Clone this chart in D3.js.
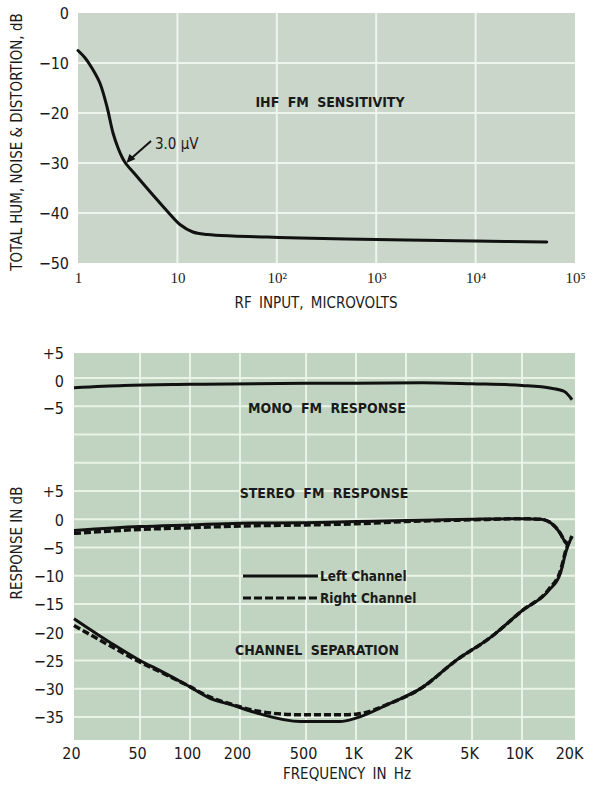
<!DOCTYPE html>
<html>
<head>
<meta charset="utf-8">
<script src="https://cdn.jsdelivr.net/npm/d3@7"></script>
<style>
  body { margin: 0; background: #fff; }
  svg text { font-family: "Liberation Sans Narrow", "DejaVu Sans Condensed", "Roboto Condensed", sans-serif; font-stretch: condensed; fill: #1a1a1a; }
  .num { font-size: 16px; }
  .serif { font-family: "Liberation Serif", "DejaVu Serif", serif; font-stretch: condensed; font-size: 15px; }
  .title { font-size: 15px; }
  .label { font-size: 14px; font-weight: bold; word-spacing: 4px; }
  .note { font-size: 13.5px; font-weight: bold; }
</style>
</head>
<body>
<svg class="chart"></svg>
<script>
// top chart: IHF FM sensitivity
var rfInput = [1, 1.18, 1.38, 1.66, 1.96, 2.25, 2.53, 2.77, 3, 3.66, 4.2, 5.67, 8.2, 10.6, 14.3, 20, 36, 80, 170, 500, 2000, 10000, 52000];
var thdNoise = [-7.5, -9, -11, -14, -18.8, -24, -27, -28.8, -30, -32, -33.4, -36.4, -40, -42.3, -43.8, -44.3, -44.6, -44.8, -45, -45.2, -45.4, -45.6, -45.8];
var rfTicks = [1, 10, 100, 1000, 10000, 100000];
var rfTickLabels = ["1", "10", "10\u00b2", "10\u00b3", "10\u2074", "10\u2075"];
var thdTicks = [0, -10, -20, -30, -40, -50];

// bottom chart: frequency response and separation
var monoFreq = [20, 40, 100, 500, 1000, 2500, 5000, 10000, 15000, 18000, 20000];
var monoResp = [-1.3, -0.9, -0.7, -0.5, -0.5, -0.4, -0.6, -0.9, -1.4, -2, -3.5];
var stereoFreq = [20, 50, 100, 200, 500, 1000, 2000, 5000, 10000, 13000, 15000, 17000, 18000, 19000];
var stereoLeft = [-2.0, -1.3, -1.0, -0.7, -0.6, -0.4, -0.2, 0, 0.1, 0, -0.7, -2.5, -3.8, -4.6];
var stereoRight = [-2.5, -1.8, -1.5, -1.2, -1.0, -0.8, -0.4, -0.1, 0.1, 0, -0.7, -2.5, -3.8, -4.6];
var sepFreq = [20, 33, 50, 66, 95, 130, 180, 260, 460, 800, 1000, 1600, 2500, 4000, 6400, 10000, 14500, 17000, 18500, 20000];
var sepLeft = [-17.6, -21.8, -25, -26.8, -29.3, -31.6, -32.9, -34.4, -35.8, -35.8, -35.2, -32.6, -29.8, -25, -21, -16.2, -12.6, -9.6, -5.5, -3];
var sepRight = [-18.8, -22.4, -25.3, -27, -29.3, -31.4, -32.8, -34, -34.6, -34.6, -34.5, -32.6, -29.8, -25, -21, -16.2, -12.4, -9.2, -5.2, -3];
var freqTicks = [20, 50, 100, 200, 500, 1000, 2000, 5000, 10000, 20000];
var freqTickLabels = ["20", "50", "100", "200", "500", "1K", "2K", "5K", "10K", "20K"];
var stereoTicks = [5, 0, -5, -10, -15, -20, -25, -30, -35];
var monoTicks = [5, 0, -5];
var gridLevels = [25, 20, 15, 10, 5, 0, -5, -10, -15, -20, -25, -30, -35];

var width = 595, height = 788;
var svg = d3.select(".chart").attr("width", width).attr("height", height);

function fmt(d) {
    if (d > 0) return "+" + d;
    if (d < 0) return "\u2212" + Math.abs(d);
    return "0";
}

// ---------- top chart ----------
var xTop = d3.scaleLog().domain([1, 1e5]).range([78, 575]);
var yTop = d3.scaleLinear().domain([0, -50]).range([13, 263]);

var topChart = svg.append("g");
topChart.append("rect")
    .attr("x", 78).attr("y", 13)
    .attr("width", 497).attr("height", 250)
    .attr("fill", "#cad6ca");

topChart.selectAll(".hgrid").data(thdTicks.slice(1, -1)).enter().append("line")
    .attr("x1", 78).attr("x2", 575)
    .attr("y1", function(d) { return yTop(d); }).attr("y2", function(d) { return yTop(d); })
    .attr("stroke", "#eef5ec").attr("stroke-width", 2);
topChart.selectAll(".vgrid").data(rfTicks.slice(1, -1)).enter().append("line")
    .attr("y1", 13).attr("y2", 263)
    .attr("x1", function(d) { return xTop(d); }).attr("x2", function(d) { return xTop(d); })
    .attr("stroke", "#eef5ec").attr("stroke-width", 2);

topChart.append("g")
    .attr("transform", "translate(69,0)")
    .call(d3.axisLeft(yTop).tickValues(thdTicks).tickSize(0).tickPadding(0).tickFormat(fmt))
    .call(function(g) { g.select(".domain").remove(); })
    .selectAll("text").attr("class", "num").attr("dy", "0.36em");

topChart.append("g")
    .attr("transform", "translate(0,269)")
    .call(d3.axisBottom(xTop).tickValues(rfTicks).tickSize(0).tickPadding(0)
        .tickFormat(function(d, i) { return rfTickLabels[i]; }))
    .call(function(g) { g.select(".domain").remove(); })
    .selectAll("text").attr("class", "serif").attr("dy", "0.9em");

topChart.append("path")
    .datum(rfInput)
    .attr("fill", "none").attr("stroke", "#111").attr("stroke-width", 3)
    .attr("stroke-linecap", "round")
    .attr("d", d3.line()
        .x(function(d) { return xTop(d); })
        .y(function(d, i) { return yTop(thdNoise[i]); })
        .curve(d3.curveCatmullRom.alpha(0.5)));

topChart.append("text").attr("class", "label")
    .attr("x", 330).attr("y", 107).attr("text-anchor", "middle")
    .text("IHF FM SENSITIVITY");

// 3.0 uV marker
topChart.append("line")
    .attr("x1", 151).attr("y1", 141)
    .attr("x2", xTop(3) + 4).attr("y2", yTop(-30) - 3)
    .attr("stroke", "#111").attr("stroke-width", 2);
topChart.append("path")
    .attr("d", "M" + (xTop(3) + 1) + "," + (yTop(-30)) + " l3,-9 l6,5 z")
    .attr("fill", "#111");
topChart.append("text")
    .attr("x", 155).attr("y", 149).style("font-size", "15px")
    .text("3.0 \u03bcV");

topChart.append("text").attr("class", "title")
    .attr("transform", "translate(22,142) rotate(-90)")
    .attr("text-anchor", "middle")
    .text("TOTAL HUM, NOISE & DISTORTION, dB");
topChart.append("text").attr("class", "title")
    .attr("x", 316).attr("y", 308).attr("text-anchor", "middle")
    .style("word-spacing", "3px")
    .text("RF INPUT, MICROVOLTS");

// ---------- bottom chart ----------
var xBot = d3.scaleLog().domain([20, 20000]).range([74, 572]);
var yStereo = d3.scaleLinear().domain([5, -35]).range([491, 717]);
var yMono = d3.scaleLinear().domain([5, -5]).range([353, 408]);

var bot = svg.append("g");
bot.append("rect")
    .attr("x", 74).attr("y", 353)
    .attr("width", 501).attr("height", 387)
    .attr("fill", "#c1d4c1");

bot.selectAll(".hgrid").data(gridLevels).enter().append("line")
    .attr("x1", 74).attr("x2", 575)
    .attr("y1", function(d) { return yStereo(d); }).attr("y2", function(d) { return yStereo(d); })
    .attr("stroke", "#eaf4e6").attr("stroke-width", 2);
bot.selectAll(".vgrid").data(freqTicks.slice(1, -1)).enter().append("line")
    .attr("y1", 353).attr("y2", 740)
    .attr("x1", function(d) { return xBot(d); }).attr("x2", function(d) { return xBot(d); })
    .attr("stroke", "#eaf4e6").attr("stroke-width", 2);

bot.append("g")
    .attr("transform", "translate(64,0)")
    .call(d3.axisLeft(yStereo).tickValues(stereoTicks).tickSize(0).tickPadding(0).tickFormat(fmt))
    .call(function(g) { g.select(".domain").remove(); })
    .selectAll("text").attr("class", "num").attr("dy", "0.36em");
bot.append("g")
    .attr("transform", "translate(64,0)")
    .call(d3.axisLeft(yMono).tickValues(monoTicks).tickSize(0).tickPadding(0).tickFormat(fmt))
    .call(function(g) { g.select(".domain").remove(); })
    .selectAll("text").attr("class", "num").attr("dy", "0.36em");

bot.append("g")
    .attr("transform", "translate(-3,748)")
    .call(d3.axisBottom(xBot).tickValues(freqTicks).tickSize(0).tickPadding(0)
        .tickFormat(function(d, i) { return freqTickLabels[i]; }))
    .call(function(g) { g.select(".domain").remove(); })
    .selectAll("text").attr("class", "num").attr("dy", "0.71em");

function curve(freqs, vals, yScale) {
    return d3.line()
        .x(function(d) { return xBot(d); })
        .y(function(d, i) { return yScale(vals[i]); })
        .curve(d3.curveMonotoneX)(freqs);
}

bot.append("path").attr("d", curve(monoFreq, monoResp, yMono))
    .attr("fill", "none").attr("stroke", "#111").attr("stroke-width", 3);
bot.append("path").attr("d", curve(stereoFreq, stereoRight, yStereo))
    .attr("fill", "none").attr("stroke", "#111").attr("stroke-width", 3.5).attr("stroke-dasharray", "7,3");
bot.append("path").attr("d", curve(stereoFreq, stereoLeft, yStereo))
    .attr("fill", "none").attr("stroke", "#111").attr("stroke-width", 3);
bot.append("path").attr("d", curve(sepFreq, sepRight, yStereo))
    .attr("fill", "none").attr("stroke", "#111").attr("stroke-width", 3.5).attr("stroke-dasharray", "7,3");
bot.append("path").attr("d", curve(sepFreq, sepLeft, yStereo))
    .attr("fill", "none").attr("stroke", "#111").attr("stroke-width", 3);

bot.append("text").attr("class", "label")
    .attr("x", 327).attr("y", 413).attr("text-anchor", "middle")
    .text("MONO FM RESPONSE");
bot.append("text").attr("class", "label")
    .attr("x", 324).attr("y", 498).attr("text-anchor", "middle")
    .text("STEREO FM RESPONSE");
bot.append("text").attr("class", "label")
    .attr("x", 317).attr("y", 655).attr("text-anchor", "middle")
    .text("CHANNEL SEPARATION");

// legend
bot.append("line").attr("x1", 243).attr("x2", 318).attr("y1", 576).attr("y2", 576)
    .attr("stroke", "#111").attr("stroke-width", 3);
bot.append("line").attr("x1", 243).attr("x2", 318).attr("y1", 598).attr("y2", 598)
    .attr("stroke", "#111").attr("stroke-width", 3).attr("stroke-dasharray", "8,3");
bot.append("text").attr("class", "note").attr("x", 320).attr("y", 581).text("Left Channel");
bot.append("text").attr("class", "note").attr("x", 320).attr("y", 603).text("Right Channel");

bot.append("text").attr("class", "title")
    .attr("transform", "translate(22,543) rotate(-90)")
    .attr("text-anchor", "middle")
    .text("RESPONSE IN dB");
bot.append("text").attr("class", "title")
    .attr("x", 347).attr("y", 779).attr("text-anchor", "middle")
    .style("word-spacing", "3px")
    .text("FREQUENCY IN Hz");
</script>
</body>
</html>
